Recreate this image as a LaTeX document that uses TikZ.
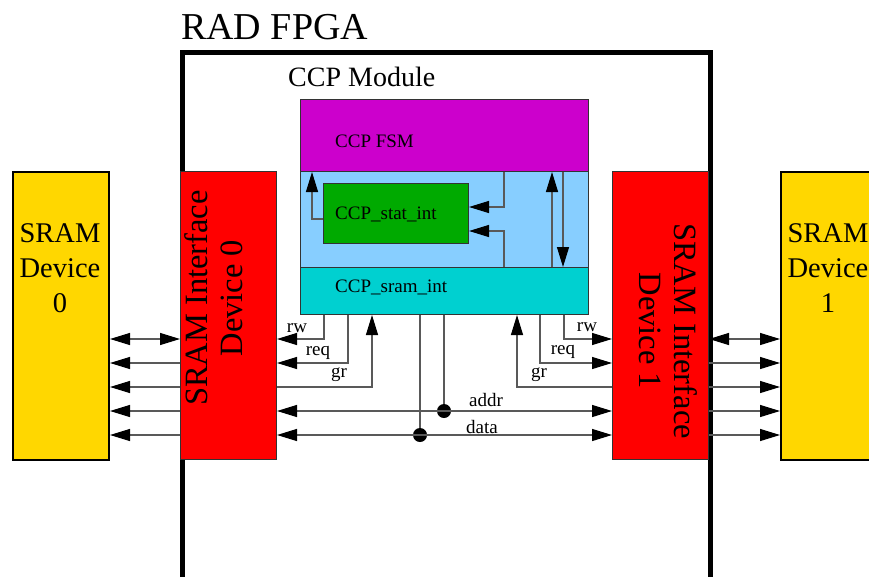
\documentclass[tikz,border=0pt]{standalone}
\usepackage{fontspec}
\setmainfont{Liberation Serif}
\usetikzlibrary{arrows.meta}

\definecolor{sramgold}{HTML}{FFD700}
\definecolor{ifred}{HTML}{FF0000}
\definecolor{fsmmag}{HTML}{CC00CC}
\definecolor{busblue}{HTML}{87CEFF}
\definecolor{statgreen}{HTML}{00AA00}
\definecolor{sramcyan}{HTML}{00D0D0}

\begin{document}
\begin{tikzpicture}[x=1pt, y=-1pt,
  >={Triangle[length=20pt, width=12pt, color=black]},
  box/.style={draw=black!80, line width=1pt, inner sep=0pt, anchor=north west},
  wire/.style={draw=black!65, line width=1.2pt},
  lbl/.style={font=\fontsize{19}{22}\selectfont, inner sep=0pt},
  dot/.style={circle, fill=black, inner sep=0pt, minimum size=14pt}]
  \useasboundingbox (0,0) rectangle (869,576);

  % FPGA frame and title
  \node[draw=black, line width=5pt, inner sep=0pt, anchor=north west,
        minimum width=528pt, minimum height=526.5pt] (fpga) at (180,50) {};
  \node[anchor=base west, inner sep=0pt, font=\fontsize{38}{44}\selectfont] (title) at (181,39) {RAD FPGA};

  % SRAM devices
  \node[box, draw=black, line width=2pt, fill=sramgold, minimum width=96pt, minimum height=288pt] (sram0) at (12,171) {};
  \node[box, draw=black, line width=2pt, fill=sramgold, minimum width=96pt, minimum height=288pt] (sram1) at (780,171) {};
  \node[align=center, inner sep=0pt, font=\fontsize{28.5}{35}\selectfont] (sram0txt) at (60,268) {SRAM\\Device\\0};
  \node[align=center, inner sep=0pt, font=\fontsize{28.5}{35}\selectfont] (sram1txt) at (828,268) {SRAM\\Device\\1};

  % SRAM interfaces
  \node[box, fill=ifred, minimum width=96pt, minimum height=288pt] (if0) at (180,171) {};
  \node[box, fill=ifred, minimum width=96pt, minimum height=288pt] (if1) at (612,171) {};
  \node[rotate=90, align=center, inner sep=0pt, font=\fontsize{32.5}{35}\selectfont] (if0txt) at (214,298) {SRAM Interface\\Device 0};
  \node[rotate=-90, align=center, inner sep=0pt, font=\fontsize{32.5}{35}\selectfont] (if1txt) at (668,331) {SRAM Interface\\Device 1};

  % CCP module
  \node[anchor=base west, inner sep=0pt, font=\fontsize{28}{32}\selectfont] (module) at (288,86) {CCP Module};
  \node[box, fill=fsmmag, minimum width=288pt, minimum height=72pt] (fsm) at (300,99) {};
  \node[box, fill=busblue, minimum width=288pt, minimum height=96pt] (ccpbus) at (300,171) {};
  \node[box, fill=statgreen, minimum width=145pt, minimum height=60pt] (stat) at (323,183) {};
  \node[box, fill=sramcyan, minimum width=288pt, minimum height=47pt] (sramint) at (300,267) {};
  \node[lbl, anchor=base west] (fsmtxt) at (335,147) {CCP FSM};
  \node[lbl, anchor=base west] (stattxt) at (335,219) {CCP\_stat\_int};
  \node[lbl, anchor=base west] (sramtxt) at (335,292) {CCP\_sram\_int};

  % rows and columns of the wires
  \coordinate (r1) at (0,339);
  \coordinate (r2) at (0,363);
  \coordinate (r3) at (0,387);
  \coordinate (r4) at (0,411);
  \coordinate (r5) at (0,435);
  \coordinate (xa) at (324,0);
  \coordinate (xb) at (348,0);
  \coordinate (xc) at (372,0);
  \coordinate (xf) at (517,0);
  \coordinate (xg) at (540,0);
  \coordinate (xh) at (564,0);
  \coordinate (s1) at (312,219);
  \coordinate (s2) at (504,207);
  \coordinate (s3) at (504,231);
  \coordinate (s4) at (552,0);
  \coordinate (s5) at (563,0);

  % inside the CCP module
  \draw[wire,->] (stat.west |- s1) -| (fsm.south -| s1);
  \draw[wire,->] (fsm.south -| s2) |- (stat.east |- s2);
  \draw[wire,->] (sramint.north -| s3) |- (stat.east |- s3);
  \draw[wire,->] (sramint.north -| s4) -- (fsm.south -| s4);
  \draw[wire,->] (fsm.south -| s5) -- (sramint.north -| s5);

  % device 0 side
  \draw[wire,<->] (sram0.east |- r1) -- (if0.west |- r1);
  \draw[wire,->] (if0.west |- r2) -- (sram0.east |- r2);
  \draw[wire,->] (if0.west |- r3) -- (sram0.east |- r3);
  \draw[wire,->] (if0.west |- r4) -- (sram0.east |- r4);
  \draw[wire,->] (if0.west |- r5) -- (sram0.east |- r5);
  \draw[wire,->] (sramint.south -| xa) |- (if0.east |- r1);
  \draw[wire,->] (sramint.south -| xb) |- (if0.east |- r2);
  \draw[wire,->] (if0.east |- r3) -| (sramint.south -| xc);
  \node[lbl] (rw0) at (297,328) {rw};
  \node[lbl] (req0) at (318,353) {req};
  \node[lbl] (gr0) at (339,375) {gr};

  % device 1 side
  \draw[wire,<->] (if1.east |- r1) -- (sram1.west |- r1);
  \draw[wire,->] (if1.east |- r2) -- (sram1.west |- r2);
  \draw[wire,->] (if1.east |- r3) -- (sram1.west |- r3);
  \draw[wire,->] (if1.east |- r4) -- (sram1.west |- r4);
  \draw[wire,->] (if1.east |- r5) -- (sram1.west |- r5);
  \draw[wire,->] (sramint.south -| xh) |- (if1.west |- r1);
  \draw[wire,->] (sramint.south -| xg) |- (if1.west |- r2);
  \draw[wire,->] (if1.west |- r3) -| (sramint.south -| xf);
  \node[lbl] (rw1) at (587,327) {rw};
  \node[lbl] (req1) at (563,352) {req};
  \node[lbl] (gr1) at (539,375) {gr};

  % shared address and data buses
  \node[dot] (addrdot) at (444,411) {};
  \node[dot] (datadot) at (420,435) {};
  \draw[wire] (sramint.south -| addrdot) -- (addrdot);
  \draw[wire] (sramint.south -| datadot) -- (datadot);
  \draw[wire,<->] (if0.east |- r4) -- (if1.west |- r4);
  \draw[wire,<->] (if0.east |- r5) -- (if1.west |- r5);
  \node[lbl] (addrtxt) at (486,400) {addr};
  \node[lbl] (datatxt) at (482,427) {data};
\end{tikzpicture}
\end{document}
